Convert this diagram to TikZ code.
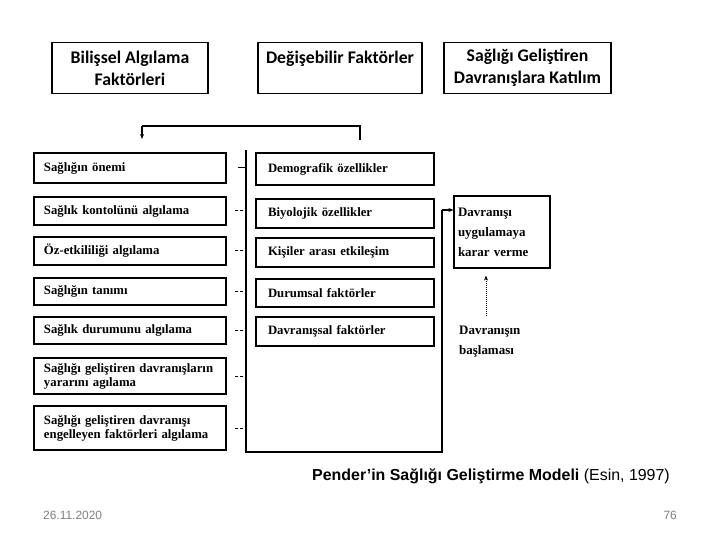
\documentclass[tikz,border=0pt]{standalone}
\usepackage{fontspec}
\usetikzlibrary{arrows.meta}
\newfontfamily\headfont{Carlito}
\newfontfamily\scanfont{Liberation Serif}
\newfontfamily\capfont{Liberation Sans}
\tikzset{
  headbox/.style={draw, line width=1.6bp, minimum height=51bp, align=center,
    font=\headfont\bfseries\fontsize{17.8}{22}\selectfont},
  lbox/.style={draw, line width=1.2bp, text width=172bp, inner xsep=10bp,
    inner ysep=0pt, align=left, font=\scanfont\bfseries\fontsize{12.8}{14}\selectfont},
  mbox/.style={draw, line width=1.2bp, text width=154bp, inner xsep=12bp,
    inner ysep=0pt, align=left, font=\scanfont\bfseries\fontsize{12.8}{14}\selectfont},
  tick/.style={line width=1bp},
  link/.style={line width=1.3bp},
  arr/.style={-{Stealth[length=5bp,width=4bp]}}
}
\begin{document}
\begin{tikzpicture}[x=1bp, y=-1bp]
\useasboundingbox (0,0) rectangle (720,540);
% headings
\node[headbox, minimum width=156bp] (h1) at (130,68) {Bilişsel Algılama\\Faktörleri};
\node[headbox, minimum width=164bp] (h2) at (340,68) {Değişebilir Faktörler\\\mbox{}};
\node[headbox, minimum width=167bp] (h3) at (527.5,68) {Sağlığı Geliştiren\\Davranışlara Katılım};

% left column
\foreach \y/\h/\t [count=\i] in {168/30/{Sağlığın önemi},
  211/28/{Sağlık kontolünü algılama},
  251/28/{Öz-etkililiği algılama},
  291.5/27/{Sağlığın tanımı},
  330.5/27/{Sağlık durumunu algılama},
  376/36/{Sağlığı geliştiren davranışların\\yararını agılama},
  428/44/{Sağlığı geliştiren davranışı\\engelleyen faktörleri algılama}}
{
\node[lbox, minimum height=\h bp] (l\i) at (130,\y) {\t};
}
\draw[tick] ([xshift=11bp]l1.east) -- ++(7,0);
\foreach \i in {2,...,7}
{
\draw[tick, dash pattern=on 3bp off 2bp] ([xshift=8bp]l\i.east) -- ++(9,0);
}

% middle column
\foreach \y/\h/\t [count=\i] in {169/32/{Demografik özellikler},
  213.5/29/{Biyolojik özellikler},
  252.5/29/{Kişiler arası etkileşim},
  293/28/{Durumsal faktörler},
  331.5/29/{Davranışsal faktörler}}
{
\node[mbox, minimum height=\h bp] (m\i) at (345,\y) {\t};
}

% right column
\node[draw, line width=1.2bp, minimum width=96bp, minimum height=72bp,
  text width=88bp, inner xsep=4bp, align=left,
  font=\scanfont\bfseries\fontsize{13}{20}\selectfont] (karar) at (502,232)
  {Davranışı\\uygulamaya\\karar verme};
\node[anchor=north west, inner sep=0pt, align=left,
  font=\scanfont\bfseries\fontsize{13}{20}\selectfont] (bas) at (459,326)
  {Davranışın\\başlaması};
\coordinate (dot) at (486,0);
\draw[arr, line width=1bp, densely dotted] ([yshift=10bp]bas.north -| dot) -- ([yshift=-7bp]karar.south -| dot);

% connectors
\coordinate (ttop) at (360,126);
\coordinate (tend) at (142,126);
\draw[link] (360,140) -- (ttop) -- (tend);
\draw[link, arr] (tend) -- (142,139);

\coordinate (btop) at (246,150);
\coordinate (bbot) at (246,452);
\coordinate (rbot) at (442,452);
\coordinate (rturn) at (442,210);
\draw[link] (btop) -- (bbot) -- (rbot) -- (rturn);
\draw[link, arr] (rturn) -- (karar.west |- rturn);

% caption and footer
\node[anchor=base west, inner sep=0pt, font=\capfont\fontsize{16}{19}\selectfont] (cap) at (312,480)
  {\textbf{Pender’in Sağlığı Geliştirme Modeli} (Esin, 1997)};
\node[anchor=base west, inner sep=0pt, text=gray, font=\capfont\fontsize{12}{14}\selectfont] (date) at (43,519) {26.11.2020};
\node[anchor=base east, inner sep=0pt, text=gray, font=\capfont\fontsize{12}{14}\selectfont] (page) at (677,519) {76};
\end{tikzpicture}
\end{document}
